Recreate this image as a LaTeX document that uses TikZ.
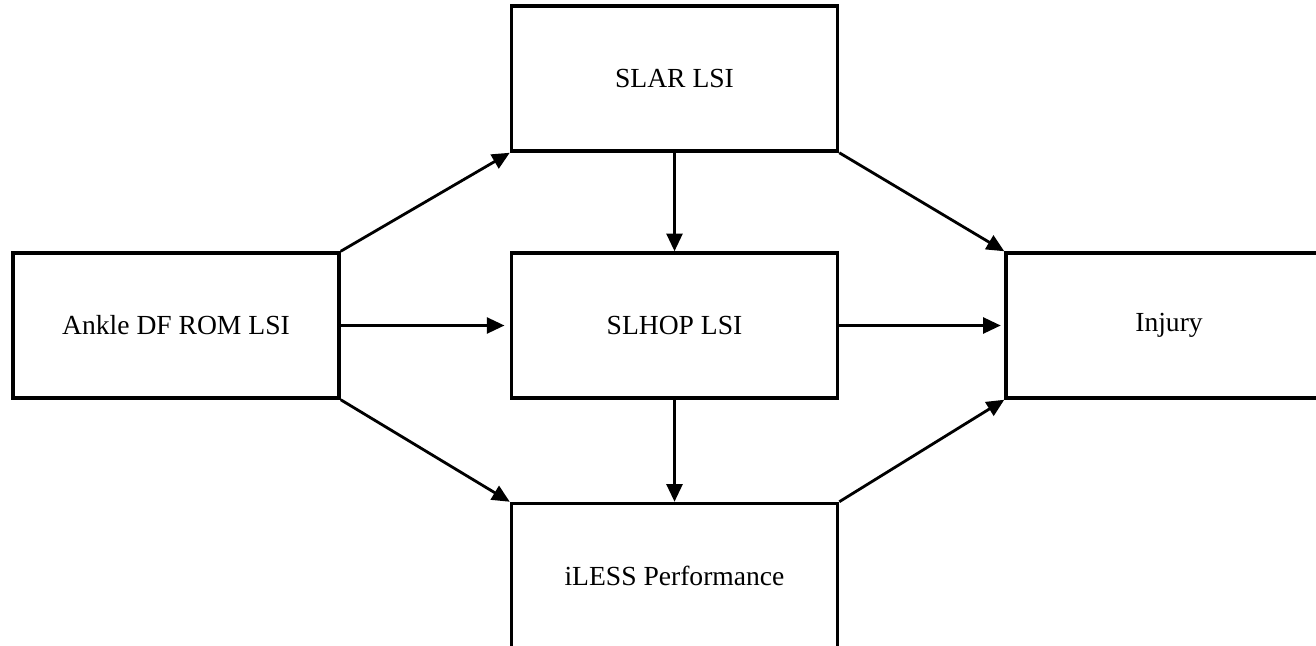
\documentclass[tikz,border=0pt]{standalone}
\usepackage{fontspec}
\setmainfont{Liberation Serif}
\usepackage{tikz}
\usetikzlibrary{positioning, arrows.meta}

\begin{document}
\begin{tikzpicture}[
        box/.style={draw, line width=2pt, minimum width=6.52cm, minimum height=2.9cm,
            inner sep=0pt, font=\fontsize{15.7}{18}\selectfont},
        arr/.style={-{Triangle[length=10pt,width=9pt]}, line width=1.6pt}
    ]
        \useasboundingbox (0,0) rectangle (26.32,-12.9);
        \node[box] (ankle) at (3.52,-6.51) {Ankle DF ROM LSI};
        \node[box, right=3.38cm of ankle] (slhop) {SLHOP LSI};
        \node[box, above=1.97cm of slhop] (slar) {SLAR LSI};
        \node[box, below=2.04cm of slhop] (iless) {iLESS Performance};
        \node[box, right=3.3cm of slhop] (injury) {Injury};
%
        \draw[arr] (ankle.north east) -- (slar.south west);
        \draw[arr, shorten >=3pt] (ankle.east) -- (slhop.west);
        \draw[arr] (ankle.south east) -- (iless.north west);
        \draw[arr] (slar) -- (slhop);
        \draw[arr] (slhop) -- (iless);
        \draw[arr] (slar.south east) -- (injury.north west);
        \draw[arr, shorten >=2pt] (slhop.east) -- (injury.west);
        \draw[arr] (iless.north east) -- (injury.south west);
\end{tikzpicture}
\end{document}
